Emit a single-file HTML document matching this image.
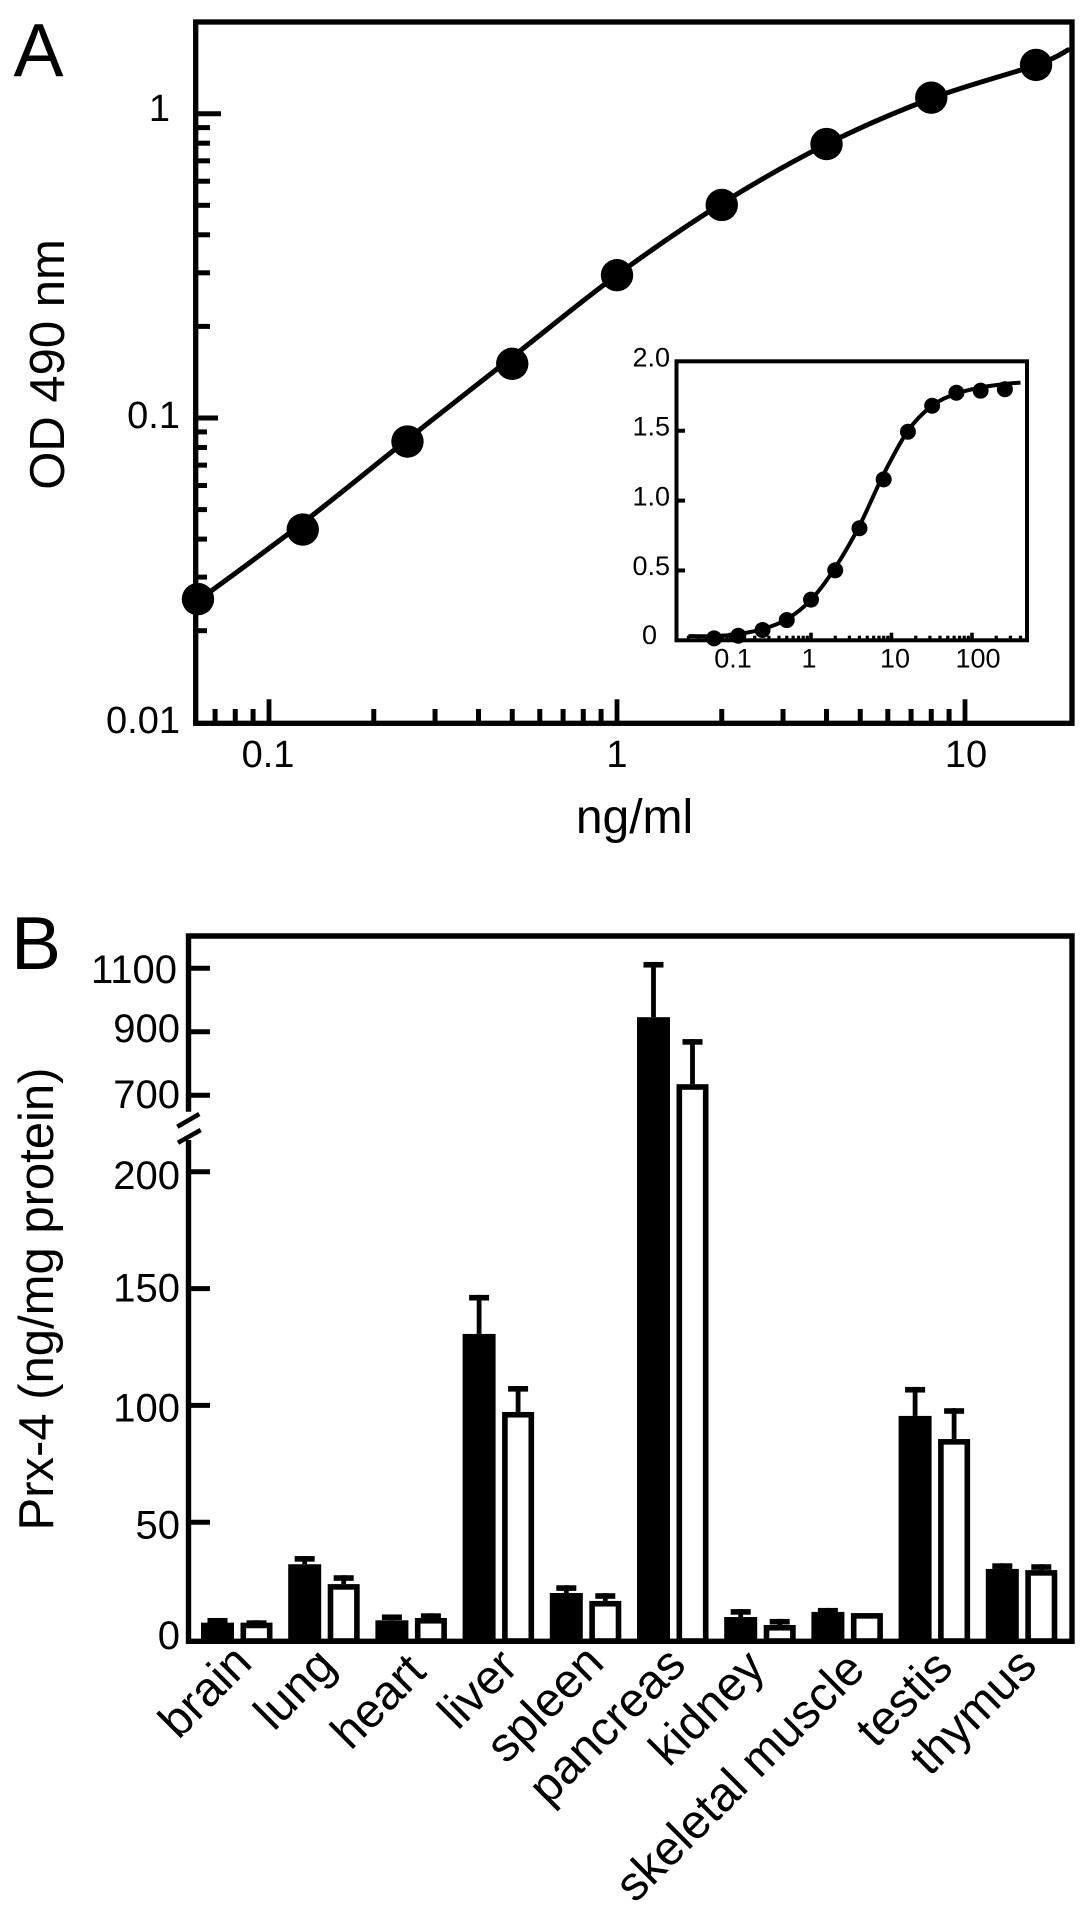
<!DOCTYPE html>
<html lang="en">
<head>
<meta charset="utf-8">
<title>Prx-4 ELISA standard curve and tissue distribution</title>
<style>
html,body{margin:0;padding:0;background:#fff;}
svg{display:block;}
text{font-family:"Liberation Sans",sans-serif;fill:#000;}
.a38{font-size:38px;}
.b40{font-size:40px;}
.i27{font-size:27px;}
.t48{font-size:48px;}
.t49{font-size:49px;}
.p75{font-size:75px;}
</style>
</head>
<body>
<svg id="fig" xmlns="http://www.w3.org/2000/svg" width="1087" height="1917" viewBox="0 0 1087 1917">
  <rect x="0" y="0" width="1087" height="1917" fill="#fff"/>

  <text class="p75" x="13.5" y="76">A</text>
  <rect x="195.7" y="22" width="876.3" height="701.3" fill="none" stroke="#000" stroke-width="5.3"/>
  <g id="a-ticks"></g>
  <g id="a-marks"></g>

  <text class="a38" text-anchor="end" x="170" y="121">1</text>
  <text class="a38" text-anchor="end" x="180" y="428">0.1</text>
  <text class="a38" text-anchor="end" x="180" y="733">0.01</text>
  <text class="a38" text-anchor="middle" x="268" y="767">0.1</text>
  <text class="a38" text-anchor="middle" x="617" y="767">1</text>
  <text class="a38" text-anchor="middle" x="966" y="767">10</text>
  <text class="t48" text-anchor="middle" x="634.5" y="833">ng/ml</text>
  <text class="t49" text-anchor="middle" transform="translate(64 364.5) rotate(-90)">OD 490 nm</text>

  <rect x="676.5" y="361.3" width="350.5" height="279" fill="#fff" stroke="#000" stroke-width="4"/>
  <g id="i-ticks"></g>
  <g id="i-marks"></g>
  <text class="i27" text-anchor="end" x="670" y="366.7">2.0</text>
  <text class="i27" text-anchor="end" x="670" y="435.7">1.5</text>
  <text class="i27" text-anchor="end" x="670" y="505.7">1.0</text>
  <text class="i27" text-anchor="end" x="670" y="575">0.5</text>
  <text class="i27" text-anchor="end" x="657" y="644">0</text>
  <text class="i27" text-anchor="middle" x="733" y="667.7">0.1</text>
  <text class="i27" text-anchor="middle" x="809" y="667.7">1</text>
  <text class="i27" text-anchor="middle" x="895" y="667.7">10</text>
  <text class="i27" text-anchor="middle" x="978" y="667.7">100</text>

  <text class="p75" x="11" y="969">B</text>
  <path d="M188.5 1111.7V936H1072V1641.3H188.5V1140" fill="none" stroke="#000" stroke-width="5.4"/>
  <path d="M177.3 1126.7L199.3 1114M178 1142.7L200.7 1130" fill="none" stroke="#000" stroke-width="4.6"/>
  <g id="b-ticks"></g>
  <g id="b-marks"></g>

  <text class="b40" text-anchor="end" x="177" y="983">1100</text>
  <text class="b40" text-anchor="end" x="180" y="1042">900</text>
  <text class="b40" text-anchor="end" x="180" y="1108">700</text>
  <text class="b40" text-anchor="end" x="180" y="1189">200</text>
  <text class="b40" text-anchor="end" x="180" y="1301.7">150</text>
  <text class="b40" text-anchor="end" x="180" y="1421.7">100</text>
  <text class="b40" text-anchor="end" x="180" y="1538.3">50</text>
  <text class="b40" text-anchor="end" x="180" y="1649">0</text>
  <text class="t49" text-anchor="middle" transform="translate(53 1299) rotate(-90)">Prx-4 (ng/mg protein)</text>

  <text class="t48" text-anchor="end" transform="translate(254 1665) rotate(-45)">brain</text>
  <text class="t48" text-anchor="end" transform="translate(338 1668) rotate(-45)">lung</text>
  <text class="t48" text-anchor="end" transform="translate(428 1674) rotate(-45)">heart</text>
  <text class="t48" text-anchor="end" transform="translate(520 1669) rotate(-45)">liver</text>
  <text class="t48" text-anchor="end" transform="translate(606 1665) rotate(-45)">spleen</text>
  <text class="t48" text-anchor="end" transform="translate(688 1667) rotate(-45)">pancreas</text>
  <text class="t48" text-anchor="end" transform="translate(767 1670) rotate(-45)">kidney</text>
  <text class="t48" text-anchor="end" transform="translate(867 1672) rotate(-45)">skeletal muscle</text>
  <text class="t48" text-anchor="end" transform="translate(955 1670) rotate(-45)">testis</text>
  <text class="t48" text-anchor="end" transform="translate(1039 1668) rotate(-45)">thymus</text>
</svg>
<script>
/* Panel A data */
const aDose = [0.0625, 0.125, 0.25, 0.5, 1, 2, 4, 8, 16];
const aOD = [0.0254, 0.043, 0.0837, 0.1507, 0.2947, 0.5012, 0.795, 1.129, 1.446];
const aCurveDose = [0.0625, 0.125, 0.25, 0.5, 1, 2, 4, 8, 16, 19.8];
const aCurveOD = [0.0251, 0.0452, 0.0851, 0.1585, 0.2951, 0.507, 0.794, 1.122, 1.445, 1.62];
const aYMajor = [1, 0.1];
const aYMinor = [0.9, 0.8, 0.7, 0.6, 0.5, 0.4, 0.3, 0.2, 0.09, 0.08, 0.07, 0.06, 0.05, 0.04, 0.03, 0.02];
const aXMajor = [0.1, 1, 10];
const aXMinor = [0.07, 0.08, 0.09, 0.2, 0.3, 0.4, 0.5, 0.6, 0.7, 0.8, 0.9, 2, 3, 4, 5, 6, 7, 8, 9];

/* Inset data */
const iDose = [0.0625, 0.125, 0.25, 0.5, 1, 2, 4, 8, 16, 32, 64, 128, 256];
const iOD = [0.014, 0.033, 0.074, 0.145, 0.291, 0.501, 0.802, 1.152, 1.493, 1.679, 1.772, 1.787, 1.797];
const iCurveDose = [0.03, 0.0625, 0.125, 0.25, 0.5, 1, 2, 4, 8, 16, 32, 64, 128, 256, 400];
const iCurveOD = [0.03, 0.03, 0.045, 0.08, 0.15, 0.29, 0.52, 0.82, 1.19, 1.5, 1.68, 1.765, 1.81, 1.835, 1.845];
const iYMajor = [0.5, 1.0, 1.5];
const iXMajor = [0.1, 1, 10, 100];
const iXMinor = [0.03, 0.04, 0.05, 0.06, 0.07, 0.08, 0.09, 0.2, 0.3, 0.4, 0.5, 0.6, 0.7, 0.8, 0.9, 2, 3, 4, 5, 6, 7, 8, 9, 20, 30, 40, 50, 60, 70, 80, 90, 200, 300, 400];

/* Panel B data */
const categories = ['brain', 'lung', 'heart', 'liver', 'spleen', 'pancreas', 'kidney', 'skeletal muscle', 'testis', 'thymus'];
const blackValues = [7, 32, 8, 130.6, 19.7, 946, 9.4, 11.6, 95.5, 30];
const blackErrorTops = [9, 35.5, 10.5, 147.3, 23, 1120, 12.8, 13.3, 107.9, 32.4];
const whiteValues = [7, 23.5, 9, 97.2, 16.3, 735, 6, 11.1, 85.6, 29.5];
const whiteErrorTops = [8, 27.3, 11, 108.3, 19.6, 877, 8.6, 11.1, 98.8, 32];
const bTicks = [0, 50, 100, 150, 200, 700, 900, 1100];

const NS = 'http://www.w3.org/2000/svg';
function make(tag, parent, attrs) {
  const el = document.createElementNS(NS, tag);
  for (const k in attrs) el.setAttribute(k, attrs[k]);
  document.getElementById(parent).appendChild(el);
  return el;
}
/* axis functions */
const ax = v => 617 + 348 * Math.log10(v);
const ay = v => 113.7 - 304.3 * Math.log10(v);
const ix = v => 811 + 80.5 * Math.log10(v);
const iy = v => 640.3 - 139.7 * v;
const by = v => v >= 400 ? 1095.3 - (v - 700) * 0.3175 : 1639 - 2.336 * v;
const bandBlack = i => 217.5 + 87.2 * i;
const bandWhite = i => 256.5 + 87.2 * i;

function smooth(px) {
  let d = 'M' + px[0][0].toFixed(1) + ' ' + px[0][1].toFixed(1);
  for (let i = 0; i < px.length - 1; i++) {
    const p0 = px[Math.max(i - 1, 0)], p1 = px[i], p2 = px[i + 1], p3 = px[Math.min(i + 2, px.length - 1)];
    const c1x = p1[0] + (p2[0] - p0[0]) / 6, c1y = p1[1] + (p2[1] - p0[1]) / 6;
    const c2x = p2[0] - (p3[0] - p1[0]) / 6, c2y = p2[1] - (p3[1] - p1[1]) / 6;
    d += 'C' + [c1x, c1y, c2x, c2y, p2[0], p2[1]].map(n => n.toFixed(1)).join(' ');
  }
  return d;
}

/* Panel A ticks */
aYMajor.forEach(v => {
  const el = make('line', 'a-ticks', {x1: 196, x2: v === 1 ? 221 : 218, y1: ay(v), y2: ay(v), stroke: '#000', 'stroke-width': 5});
  
  
});
aYMinor.forEach(v => {
  const el = make('line', 'a-ticks', {x1: 196, x2: v >= 0.1 ? 210 : 207, y1: ay(v), y2: ay(v), stroke: '#000', 'stroke-width': 5});
  
  
});
aXMajor.forEach(v => {
  const el = make('line', 'a-ticks', {x1: ax(v), x2: ax(v), y1: 723, y2: 699.3, stroke: '#000', 'stroke-width': 4.8});
  
  
});
aXMinor.forEach(v => {
  const el = make('line', 'a-ticks', {x1: ax(v), x2: ax(v), y1: 723, y2: 709, stroke: '#000', 'stroke-width': 5});
  
  
});

/* Panel A series */
const aCurve = make('path', 'a-marks', {d: smooth(aCurveDose.map((d, i) => [ax(d), ay(aCurveOD[i])])), fill: 'none', stroke: '#000', 'stroke-width': 5, 'stroke-linecap': 'round'});


aDose.forEach((d, i) => {
  const el = make('circle', 'a-marks', {cx: ax(d), cy: ay(aOD[i]), r: 16.2, fill: '#000'});
  
  
});

/* Inset ticks */
iYMajor.forEach(v => {
  const el = make('line', 'i-ticks', {x1: 677, x2: 685, y1: iy(v), y2: iy(v), stroke: '#000', 'stroke-width': 4});
  
  
});
iXMajor.forEach(v => {
  const el = make('line', 'i-ticks', {x1: ix(v), x2: ix(v), y1: 640, y2: 632.7, stroke: '#000', 'stroke-width': 3.6});
  
  
});
iXMinor.forEach(v => {
  const el = make('line', 'i-ticks', {x1: ix(v), x2: ix(v), y1: 640, y2: 635.7, stroke: '#000', 'stroke-width': 3.2});
  
  
});

/* Inset series */
const iCurve = make('path', 'i-marks', {d: smooth(iCurveDose.map((d, i) => [ix(d), iy(iCurveOD[i])])), fill: 'none', stroke: '#000', 'stroke-width': 4});


iDose.forEach((d, i) => {
  const el = make('circle', 'i-marks', {cx: ix(d), cy: iy(iOD[i]), r: 8, fill: '#000'});
  
  
});

/* Panel B ticks */
bTicks.forEach(v => {
  if (v === 0) return;
  const el = make('line', 'b-ticks', {x1: 189, x2: 210, y1: by(v), y2: by(v), stroke: '#000', 'stroke-width': 5});
  
  
});

/* Panel B bars */
const BASE = 1641;
const HALF_B = 16.5, HALF_W = 16, STROKE = 5.6;
categories.forEach((c, i) => {
  const slug = c.replace(/ /g, '-');
  const bx = bandBlack(i), wx = bandWhite(i);

  const blackStem = make('rect', 'b-marks', {x: bx - 2.4, width: 4.8, y: by(blackErrorTops[i]), height: Math.max(0, by(blackValues[i]) - by(blackErrorTops[i])), fill: '#000'});
  
  
  const blackCap = make('rect', 'b-marks', {x: bx - 10, width: 20, y: by(blackErrorTops[i]), height: 5.6, fill: '#000'});
  
  
  const blackBar = make('rect', 'b-marks', {x: bx - HALF_B, width: HALF_B * 2, y: by(blackValues[i]), height: BASE - by(blackValues[i]), fill: '#000'});
  
  

  if (whiteErrorTops[i] > whiteValues[i]) {
    const whiteStem = make('rect', 'b-marks', {x: wx - 2.4, width: 4.8, y: by(whiteErrorTops[i]), height: Math.max(0, by(whiteValues[i]) - by(whiteErrorTops[i])), fill: '#000'});
    
    
    const whiteCap = make('rect', 'b-marks', {x: wx - 10, width: 20, y: by(whiteErrorTops[i]), height: 5.6, fill: '#000'});
    
    
  }
  const whiteBar = make('rect', 'b-marks', {x: wx - HALF_W + STROKE / 2, width: HALF_W * 2 - STROKE, y: by(whiteValues[i]) + STROKE / 2, height: BASE - by(whiteValues[i]) - STROKE / 2, fill: '#fff', stroke: '#000', 'stroke-width': STROKE});
  
  
});
</script>
</body>
</html>
